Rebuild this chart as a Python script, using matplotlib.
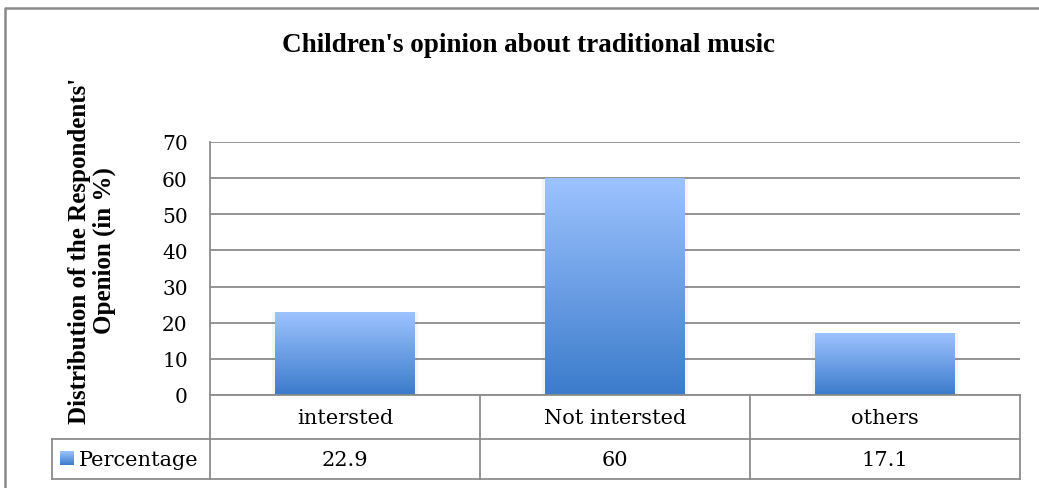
import numpy as np
import matplotlib.pyplot as plt
from matplotlib.colors import LinearSegmentedColormap

# survey results
categories = ['intersted', 'Not intersted', 'others']
percentage = [22.9, 60, 17.1]
value_labels = ['22.9', '60', '17.1']
series_name = 'Percentage'
yticks = [0, 10, 20, 30, 40, 50, 60, 70]

W, H = 1039, 489
fig = plt.figure(figsize=(W / 100, H / 100), dpi=100)

# pixel layout of the plot area and the data table
px_left, px_right = 210, 1020
px_top, px_zero = 143, 396
row_mid, row_bottom = 440, 480
tab_left = 52

ax = fig.add_axes([px_left / W, 1 - px_zero / H,
                   (px_right - px_left) / W, (px_zero - px_top) / H])

grid_col = '#8c8c8c'
top_col = np.array([0x9d, 0xc3, 0xff]) / 255
bot_col = np.array([0x3b, 0x7b, 0xcb]) / 255
grad = LinearSegmentedColormap.from_list('bar', [bot_col, top_col])
ramp = np.linspace(0, 1, 256).reshape(-1, 1)

bar_w = 0.515
x = np.arange(len(categories))
for xi, v in zip(x, percentage):
    # soft glow around the bar
    ax.bar(xi, v, width=bar_w + 0.025, color='#000000', alpha=0.04, zorder=2)
    ax.imshow(ramp, cmap=grad, origin='lower', aspect='auto', zorder=3,
              extent=[xi - bar_w / 2, xi + bar_w / 2, 0, v])

ax.set_xlim(-0.5, len(categories) - 0.5)
ax.set_ylim(0, 70)
ax.set_yticks(yticks)
ax.set_xticks([])
ax.yaxis.grid(True, color=grid_col, linewidth=1.3)
ax.set_axisbelow(True)
for s in ['top', 'right', 'bottom']:
    ax.spines[s].set_visible(False)
ax.spines['left'].set_color(grid_col)
ax.spines['left'].set_linewidth(1.3)
ax.tick_params(axis='y', length=0, pad=16)
for t in ax.get_yticklabels():
    t.set_fontfamily('DejaVu Serif')
    t.set_fontsize(14.5)

# overlay in pixel coordinates for the data table and frame
ov = fig.add_axes([0, 0, 1, 1], zorder=5)
ov.set_xlim(0, W)
ov.set_ylim(H, 0)
ov.axis('off')
ov.patch.set_alpha(0)

lw = 1.3
col_w = (px_right - px_left) / len(categories)
edges = [px_left + i * col_w for i in range(len(categories) + 1)]
ov.plot([px_left, px_right], [px_zero, px_zero], color=grid_col, lw=lw)
ov.plot([tab_left, px_right], [row_mid, row_mid], color=grid_col, lw=lw)
ov.plot([tab_left, px_right], [row_bottom, row_bottom], color=grid_col, lw=lw)
ov.plot([tab_left, tab_left], [row_mid, row_bottom], color=grid_col, lw=lw)
for e in edges:
    ov.plot([e, e], [px_zero, row_bottom], color=grid_col, lw=lw)

tab_font = dict(family='DejaVu Serif', fontsize=15, ha='center', va='center')
for i, (c, lab) in enumerate(zip(categories, value_labels)):
    cx = px_left + (i + 0.5) * col_w
    ov.text(cx, (px_zero + row_mid) / 2 + 1, c, **tab_font)
    ov.text(cx, (row_mid + row_bottom) / 2 + 1, lab, **tab_font)

# legend key inside the table
ov.imshow(ramp, cmap=grad, origin='lower', aspect='auto', zorder=6,
          extent=[60, 74, 466, 452])
ov.set_xlim(0, W)
ov.set_ylim(H, 0)
ov.text(79, (row_mid + row_bottom) / 2 + 1, series_name, family='DejaVu Serif',
        fontsize=15, ha='left', va='center')

# outer chart frame
ov.plot([5, 5, W + 5], [H + 5, 9, 9], color='#8a8a8a', lw=1.8, clip_on=False)

fig.text(528 / W, 1 - 46 / H, "Children's opinion about traditional music",
         family='Liberation Serif', fontweight='bold', fontsize=19.5,
         ha='center', va='center')
fig.text(92 / W, 1 - 251 / H, "Distribution of the Respondents'\nOpenion (in %)",
         family='Liberation Serif', fontweight='bold', fontsize=18,
         ha='center', va='center', rotation=90, linespacing=1.1)

fig.savefig('out.png', dpi=100)
